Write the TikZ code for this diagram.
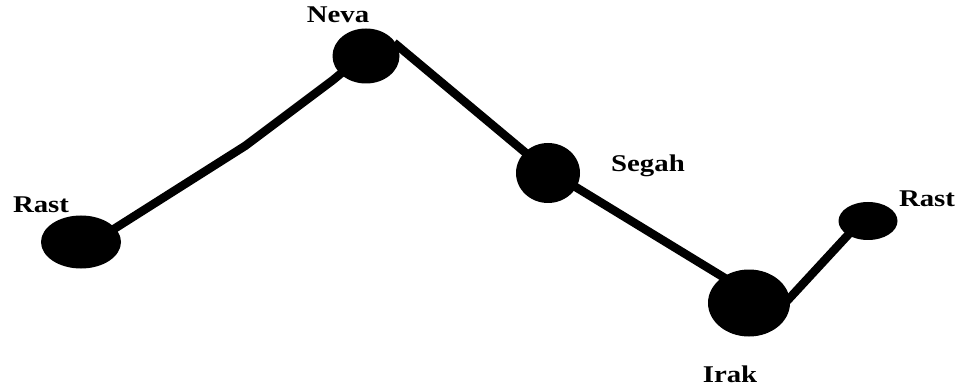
\documentclass[tikz,border=0pt]{standalone}
\usepackage{fontspec}
\setmainfont{Liberation Serif}
\usetikzlibrary{shapes.geometric}
\begin{document}
\begin{tikzpicture}[x=1pt,y=-1pt,
  dot/.style={ellipse,fill=black,draw=none,inner sep=0pt},
  conn/.style={line width=8.5pt,line join=round,black,shorten <=-4pt,shorten >=-4pt},
  lbl/.style={anchor=base,inner sep=0pt,font=\fontsize{24}{26}\selectfont\bfseries}]
\useasboundingbox (0,0) rectangle (964,390);
\node[dot,minimum width=80pt,minimum height=53pt] (rastL) at (81,242) {};
\node[dot,minimum width=67pt,minimum height=55pt] (neva) at (366,56) {};
\node[dot,minimum width=64pt,minimum height=60pt] (segah) at (548,173) {};
\node[dot,minimum width=82pt,minimum height=67pt] (irak) at (749,303) {};
\node[dot,minimum width=59pt,minimum height=38pt] (rastR) at (868,221) {};
\coordinate (bend) at (245,146);
\coordinate (nevaIn) at (333,80);
\draw[conn] (rastL.22) -- (bend) -- (nevaIn) -- (neva.215);
\draw[conn] (neva.19) -- (segah.138);
\draw[conn] (segah.-27) -- (irak.135);
\draw[conn] (irak.7) -- (rastR.215);
\node[lbl] (tRastL) at (41,213) {\scalebox{1.2}[1]{Rast}};
\node[lbl] (tNeva) at (338,23) {\scalebox{1.2}[1]{Neva}};
\node[lbl] (tSegah) at (648,172) {\scalebox{1.2}[1]{Segah}};
\node[lbl] (tRastR) at (927,207) {\scalebox{1.2}[1]{Rast}};
\node[lbl] (tIrak) at (730,382) {\scalebox{1.2}[1]{Irak}};
\end{tikzpicture}
\end{document}
